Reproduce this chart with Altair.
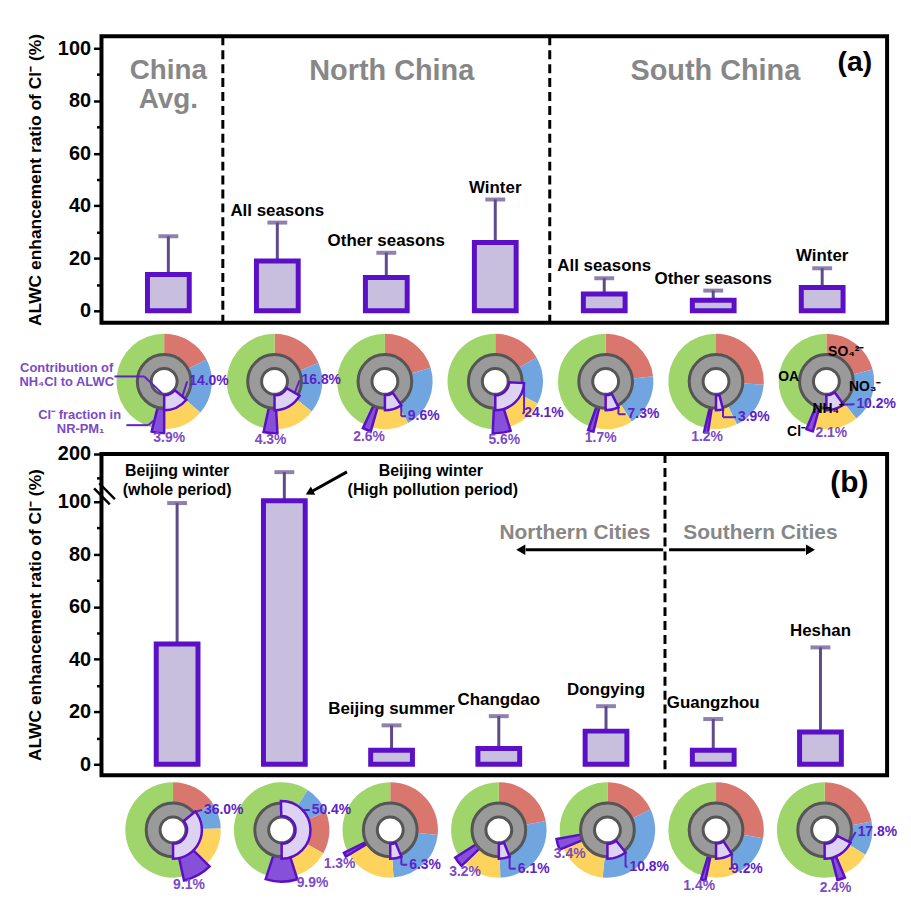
import math
import altair as alt
import pandas as pd

# ---------------- data ----------------
# panel (a): regional averages
A_GROUPS = ["China Avg.", "North China", "South China"]
A_SEASONS = ["", "All seasons", "Other seasons", "Winter",
             "All seasons", "Other seasons", "Winter"]
A_RATIO = [13.8, 19.0, 12.7, 26.0, 6.4, 4.0, 8.9]
A_ERR = [28.4, 33.6, 22.1, 42.4, 12.4, 7.7, 16.2]

# panel (b): individual sites
B_SITES = ["Beijing winter (whole period)", "Beijing winter (High pollution period)",
           "Beijing summer", "Changdao", "Dongying", "Guangzhou", "Heshan"]
B_BAR_LABELS = ["", "", "Beijing summer", "Changdao", "Dongying", "Guangzhou", "Heshan"]
B_RATIO = [45.8, 102.0, 5.3, 6.0, 12.6, 5.3, 12.3]
B_ERR = [99.5, 162.0, 14.8, 18.3, 22.1, 17.2, 44.5]

# NR-PM1 composition (%) and NH4Cl contribution to ALWC (%)
A_SO4 = [17.4, 18.6, 20.4, 16.6, 23.3, 26.1, 21.0]
A_NO3 = [18.9, 17.2, 21.5, 16.1, 17.5, 16.7, 18.2]
A_NH4 = [13.7, 13.3, 12.5, 12.5, 13.0, 9.7, 15.0]
A_CL = [3.9, 4.3, 2.6, 5.6, 1.7, 1.2, 2.1]
A_OA = [46.1, 46.6, 43.0, 49.2, 44.5, 46.3, 43.7]
A_NH4CL = [14.0, 16.8, 9.6, 24.1, 7.3, 3.9, 10.2]

B_SO4 = [15.6, 14.2, 26.7, 22.0, 18.0, 27.8, 22.2]
B_NO3 = [8.9, 9.7, 22.2, 27.5, 33.6, 14.4, 11.5]
B_NH4 = [13.0, 12.0, 17.5, 13.3, 17.2, 11.1, 9.9]
B_CL = [9.1, 9.9, 1.3, 3.2, 3.4, 1.4, 2.4]
B_OA = [53.4, 54.2, 32.3, 34.0, 27.8, 45.3, 54.0]
B_NH4CL = [36.0, 50.4, 6.3, 6.1, 10.8, 9.2, 17.8]

COMPONENTS = ["SO4", "NO3", "NH4", "Cl", "OA"]

# ---------------- layout / style ----------------
FONT = "Liberation Sans, Arial, sans-serif"
BAR_FILL = "#c8bfdf"
BAR_STROKE = "#5b0fc6"
ERR_COLOR = "#5e4b8b"
GRAY_TXT = "#878787"
PURPLE1 = "#5e22c8"
PURPLE2 = "#7b4bc4"
COMP_COLORS = ["#d9776f", "#71a5e0", "#fdd35d", "#8650d8", "#9fd56a"]

W = 790
HA, HPA, HB, HPB = 288, 132, 323, 122
PIE_CA, PIE_CB = 59, 55
B_Y100 = 48  # px of the value 100 below the top of panel (b)

ORDER_DEFAULT = ["SO4", "NO3", "NH4", "Cl", "OA"]
ORDER_A = [ORDER_DEFAULT] * 7
ROT_A = [0] * 7
ORDER_B = [ORDER_DEFAULT, ["NO3", "SO4", "NH4", "Cl", "OA"]] + [ORDER_DEFAULT] * 5
ROT_B = [0, 9.2, 0, 0, 0, 0, 0]

# label offsets (px from pie centre)
NH4CL_OFF_A = [(45, 0), (47, -1), (39, 35), (49, 32), (38, 33), (38, 36), (50, 23)]
NH4CL_OFF_B = [(51, -20), (50, -20), (35, 35), (35, 39), (42, 37), (31, 39), (53, 2)]
CL_OFF_A = [(5, 57), (-4, 59), (-16, 56), (9, 59), (-5, 57), (-9, 56), (5, 52)]
CL_OFF_B = [(16, 55), (31, 53), (-51, 34), (-34, 42), (-38, 24), (-17, 56), (11, 58)]

XA_DOM = [-0.568, 6.55]
XB_DOM = [-0.659, 6.575]
YB_DOM = [-4.2, 100, 200]
XA = alt.Scale(domain=XA_DOM, nice=False, zero=False)
XB = alt.Scale(domain=XB_DOM, nice=False, zero=False)
YA = alt.Scale(domain=[-4.55, 104.55], nice=False, zero=False)
YB = alt.Scale(domain=YB_DOM, range=[HB, B_Y100, 0], nice=False, zero=False)
THETA = alt.Scale(domain=[0, 100], range=[0, 6.283185307179586])

YTITLE = "ALWC enhancement ratio of Cl\u207b (%)"


def yaxis(values, major):
    return alt.Axis(values=values, labelExpr=f"({major}) ? datum.label : ''",
                    tickSize={"condition": {"test": major, "value": 8}, "value": 5},
                    tickWidth=2.5, tickColor="black", domain=False, grid=False,
                    labelFont=FONT, labelFontSize=20, labelFontWeight="bold",
                    labelColor="black", labelPadding=3, title=YTITLE, titleFont=FONT,
                    titleFontSize=17.5, titleFontWeight="bold", titleColor="black",
                    titlePadding=13)


def ptxt(x, y, text, xs, ys, yax, size, color="black", **kw):
    return alt.Chart(pd.DataFrame({"x": [x], "y": [y]})).mark_text(
        text=text, fontSize=size, fontWeight="bold", font=FONT, color=color, **kw
    ).encode(x=alt.X("x:Q", scale=xs, axis=None), y=alt.Y("y:Q", scale=ys, axis=yax))


def bar_panel(ratio, err, labels, xs, ys, yax, label_dy):
    df = pd.DataFrame({"i": list(range(7)), "ratio": ratio, "err": err, "label": labels})
    x = alt.X("i:Q", scale=xs, axis=None)
    bars = alt.Chart(df).mark_bar(size=42, fill=BAR_FILL, stroke=BAR_STROKE, strokeWidth=5).encode(
        x=x, y=alt.Y("ratio:Q", scale=ys, axis=yax), y2=alt.datum(0))
    rule = alt.Chart(df).mark_rule(color=ERR_COLOR, strokeWidth=3).encode(
        x=x, y=alt.Y("ratio:Q", scale=ys, axis=yax), y2="err:Q")
    cap = alt.Chart(df).mark_tick(orient="horizontal", size=20, thickness=4, color=ERR_COLOR).encode(
        x=x, y=alt.Y("err:Q", scale=ys, axis=yax))
    lab = alt.Chart(df).mark_text(dy=label_dy, fontSize=17, fontWeight="bold", font=FONT,
                                  color="black").encode(
        x=x, y=alt.Y("err:Q", scale=ys, axis=yax), text="label:N")
    return [rule, bars, cap, lab]


def dashed(xvals, xs):
    return alt.Chart(pd.DataFrame({"x": xvals})).mark_rule(
        strokeDash=[9, 5], strokeWidth=3, color="black").encode(x=alt.X("x:Q", scale=xs, axis=None))


# ---------------- panel (a) ----------------
YAX_A = yaxis(list(range(0, 101, 10)), "datum.value % 20 === 0")
layers_a = [dashed([0.5, 3.5], XA)] + bar_panel(A_RATIO, A_ERR, A_SEASONS, XA, YA, YAX_A, -12)
layers_a += [
    ptxt(0, 91.3, "China", XA, YA, YAX_A, 28, GRAY_TXT),
    ptxt(0, 80.2, "Avg.", XA, YA, YAX_A, 28, GRAY_TXT),
    ptxt(2.05, 91.3, A_GROUPS[1], XA, YA, YAX_A, 29, GRAY_TXT),
    ptxt(5.02, 91.3, A_GROUPS[2], XA, YA, YAX_A, 29, GRAY_TXT),
    ptxt(6.3, 94.7, "(a)", XA, YA, YAX_A, 28.5, "black"),
]
panel_a = alt.layer(*layers_a).properties(
    width=W, height=HA, view=alt.ViewBackground(stroke="black", strokeWidth=4))

# ---------------- panel (b) ----------------
YAX_B = yaxis(list(range(0, 101, 10)) + [150, 200],
              "(datum.value % 20 === 0 && datum.value <= 100) || datum.value === 200")
layers_b = [dashed([4.55], XB)] + bar_panel(B_RATIO, B_ERR, B_BAR_LABELS, XB, YB, YAX_B, -16)
arrow_df = pd.DataFrame({"x": [1.584], "y": [162.5], "x2": [1.26], "y2": [122.0]})
city_df = pd.DataFrame({"x": [4.533, 4.588], "x2": [3.25, 5.86], "y": [81.7, 81.7]})
head_l = pd.DataFrame({"x": [3.205], "y": [81.7]})
head_r = pd.DataFrame({"x": [5.907], "y": [81.7]})
head_b = pd.DataFrame({"x": [1.245], "y": [120.8]})


# axis-break mark: two short parallel strokes across the y axis, placed in pixel
# offsets around the axis position and converted to data units
def b_val(py):
    if py <= B_Y100:
        return 200 - py * 100 / B_Y100
    return 100 - (py - B_Y100) * (100 - YB_DOM[0]) / (HB - B_Y100)


PXU_B = W / (XB_DOM[1] - XB_DOM[0])
brk = []
for s in (-2.6, 2.6):
    cx, cy = -2 + s, 40 - s
    brk.append({"x": XB_DOM[0] + (cx - 8) / PXU_B, "y": b_val(cy - 8),
                "x2": XB_DOM[0] + (cx + 8) / PXU_B, "y2": b_val(cy + 8)})
brk_df = pd.DataFrame(brk)


def pt(df, **kw):
    return alt.Chart(df).mark_point(filled=True, color="black", opacity=1, **kw).encode(
        x=alt.X("x:Q", scale=XB, axis=None), y=alt.Y("y:Q", scale=YB, axis=YAX_B))


layers_b += [
    ptxt(0, 164.6, "Beijing winter", XB, YB, YAX_B, 16),
    ptxt(0, 125.0, "(whole period)", XB, YB, YAX_B, 16),
    ptxt(2.367, 164.6, "Beijing winter", XB, YB, YAX_B, 16),
    ptxt(2.385, 125.0, "(High pollution period)", XB, YB, YAX_B, 16),
    alt.Chart(arrow_df).mark_rule(strokeWidth=3, color="black").encode(
        x=alt.X("x:Q", scale=XB, axis=None), y=alt.Y("y:Q", scale=YB, axis=YAX_B),
        x2="x2:Q", y2="y2:Q"),
    pt(head_b, shape="triangle", angle=242, size=90),
    ptxt(3.71, 88.0, "Northern Cities", XB, YB, YAX_B, 21, GRAY_TXT),
    ptxt(5.44, 88.0, "Southern Cities", XB, YB, YAX_B, 21, GRAY_TXT),
    alt.Chart(city_df).mark_rule(strokeWidth=3, color="black").encode(
        x=alt.X("x:Q", scale=XB, axis=None), x2="x2:Q", y=alt.Y("y:Q", scale=YB, axis=YAX_B)),
    pt(head_l, shape="triangle-left", size=110),
    pt(head_r, shape="triangle-right", size=110),
    ptxt(6.27, 139.6, "(b)", XB, YB, YAX_B, 30),
    alt.Chart(brk_df).mark_rule(strokeWidth=2.5, color="black").encode(
        x=alt.X("x:Q", scale=XB, axis=None), y=alt.Y("y:Q", scale=YB, axis=YAX_B),
        x2="x2:Q", y2="y2:Q"),
]
panel_b = alt.layer(*layers_b).properties(
    width=W, height=HB, view=alt.ViewBackground(stroke="black", strokeWidth=4))


# ---------------- pies ----------------
def pie_tables(so4, no3, nh4, cl, oa, nh4cl, orders, rots):
    ring, clw, nw, gray = [], [], [], []
    for i in range(7):
        vals = {"SO4": so4[i], "NO3": no3[i], "NH4": nh4[i], "Cl": cl[i], "OA": oa[i]}
        start = rots[i]
        for c in orders[i]:
            ring.append({"i": i, "yc": 0, "comp": c, "t0": start, "t1": start + vals[c]})
            if c == "Cl":
                clw.append({"i": i, "yc": 0, "t0": start, "t1": start + vals[c]})
            start += vals[c]
        nw.append({"i": i, "yc": 0, "t0": 50 - nh4cl[i], "t1": 50})
        gray.append({"i": i, "yc": 0, "t0": 0, "t1": 100})
    return [pd.DataFrame(t) for t in (ring, clw, nw, gray)]


def label_width(text, size):
    w = 0.0
    for ch in text:
        w += {"%": 0.889, ".": 0.278}.get(ch, 0.556)
    return w * size


def pie_panel(tables, nh4cl, cl, xs, xdom, h, center, off_n, off_c, extra, extra_lines):
    ring, clw, nw, gray = tables
    ys = alt.Scale(domain=[center - h, center], nice=False, zero=False)
    pxu = W / (xdom[1] - xdom[0])

    def enc(ch):
        return ch.encode(x=alt.X("i:Q", scale=xs, axis=None),
                         y=alt.Y("yc:Q", scale=ys, axis=None),
                         theta=alt.Theta("t0:Q", scale=THETA, stack=False),
                         theta2="t1:Q")

    # leader lines: from the NH4Cl wedge's leading edge to its label
    segs = []
    for i in range(7):
        ang = math.radians((50 - nh4cl[i]) * 3.6)
        ax, ay = 29 * math.sin(ang), -29 * math.cos(ang)
        txt = f"{nh4cl[i]:.1f}%"
        lx = off_n[i][0] - label_width(txt, 14) / 2 - 2
        ly = off_n[i][1]
        if ly > ay + 4:
            pts = [(ax, ay), (ax, ly), (lx, ly)]
        else:
            pts = [(ax, ay), (lx - 6, ay), (lx, ly)]
        for (p, q) in zip(pts[:-1], pts[1:]):
            segs.append({"x": i + p[0] / pxu, "y": -p[1], "x2": i + q[0] / pxu, "y2": -q[1]})
    for (i, pts) in extra_lines:
        for (p, q) in zip(pts[:-1], pts[1:]):
            segs.append({"x": i + p[0] / pxu, "y": -p[1], "x2": i + q[0] / pxu, "y2": -q[1]})
    seg_df = pd.DataFrame(segs)

    layers = [
        enc(alt.Chart(ring).mark_arc(radius=48, radius2=26)).encode(
            color=alt.Color("comp:N", scale=alt.Scale(domain=COMPONENTS, range=COMP_COLORS),
                            legend=None)),
        enc(alt.Chart(clw).mark_arc(radius=52, radius2=27, fill="#8650d8",
                                    stroke=BAR_STROKE, strokeWidth=2.5)),
        enc(alt.Chart(gray).mark_arc(radius=27, radius2=13, fill="#9a9a9a",
                                     stroke="#555555", strokeWidth=3)),
        alt.Chart(seg_df).mark_rule(color=PURPLE1, strokeWidth=2).encode(
            x=alt.X("x:Q", scale=xs, axis=None), y=alt.Y("y:Q", scale=ys, axis=None),
            x2="x2:Q", y2="y2:Q"),
        enc(alt.Chart(nw).mark_arc(radius=29, radius2=14, fill="#ddd2f2",
                                   stroke=BAR_STROKE, strokeWidth=2.5)),
    ]

    def t(i, dx, dy, text, color, size):
        return alt.Chart(pd.DataFrame({"i": [i], "yc": [0]})).mark_text(
            text=text, dx=dx, dy=dy, color=color, fontSize=size, fontWeight="bold",
            font=FONT, baseline="middle").encode(
            x=alt.X("i:Q", scale=xs, axis=None), y=alt.Y("yc:Q", scale=ys, axis=None))

    for i in range(7):
        layers.append(t(i, off_n[i][0], off_n[i][1], f"{nh4cl[i]:.1f}%", PURPLE1, 14))
        layers.append(t(i, off_c[i][0], off_c[i][1], f"{cl[i]:.1f}%", PURPLE2, 14))
    for (i, dx, dy, text, color, size) in extra:
        layers.append(t(i, dx, dy, text, color, size))
    return alt.layer(*layers).properties(
        width=W, height=h, view=alt.ViewBackground(stroke="transparent"))


extra_a = [
    (0, -98, -13, "Contribution of", PURPLE2, 13),
    (0, -98, 1, "NH\u2084Cl to ALWC", PURPLE2, 13),
    (0, -85, 34, "Cl\u207b fraction in", PURPLE2, 13),
    (0, -84, 48, "NR-PM\u2081", PURPLE2, 13),
    (6, 20, -30, "SO\u2084\u00b2\u207b", "black", 14),
    (6, 39, 6, "NO\u2083\u207b", "black", 14),
    (6, 2, 28, "NH\u2084\u207a", "black", 14),
    (6, -30, 51, "Cl\u207b", "black", 14),
    (6, -38, -4, "OA", "black", 14),
]
extra_lines_a = [
    (0, [(-50, -5), (-20, -5), (-2, 12)]),
    (0, [(-38, 44), (-16, 44), (-9, 38)]),
]

pies_a = pie_panel(pie_tables(A_SO4, A_NO3, A_NH4, A_CL, A_OA, A_NH4CL, ORDER_A, ROT_A),
                   A_NH4CL, A_CL, XA, XA_DOM, HPA, PIE_CA, NH4CL_OFF_A, CL_OFF_A,
                   extra_a, extra_lines_a)
pies_b = pie_panel(pie_tables(B_SO4, B_NO3, B_NH4, B_CL, B_OA, B_NH4CL, ORDER_B, ROT_B),
                   B_NH4CL, B_CL, XB, XB_DOM, HPB, PIE_CB, NH4CL_OFF_B, CL_OFF_B, [], [])

chart = alt.vconcat(panel_a, pies_a, panel_b, pies_b, spacing=0, bounds="flush",
                    padding={"left": 10, "top": 21, "right": 5, "bottom": 5}).configure(font=FONT)

chart.save("out.html", embed_options={"renderer": "svg", "actions": False})
